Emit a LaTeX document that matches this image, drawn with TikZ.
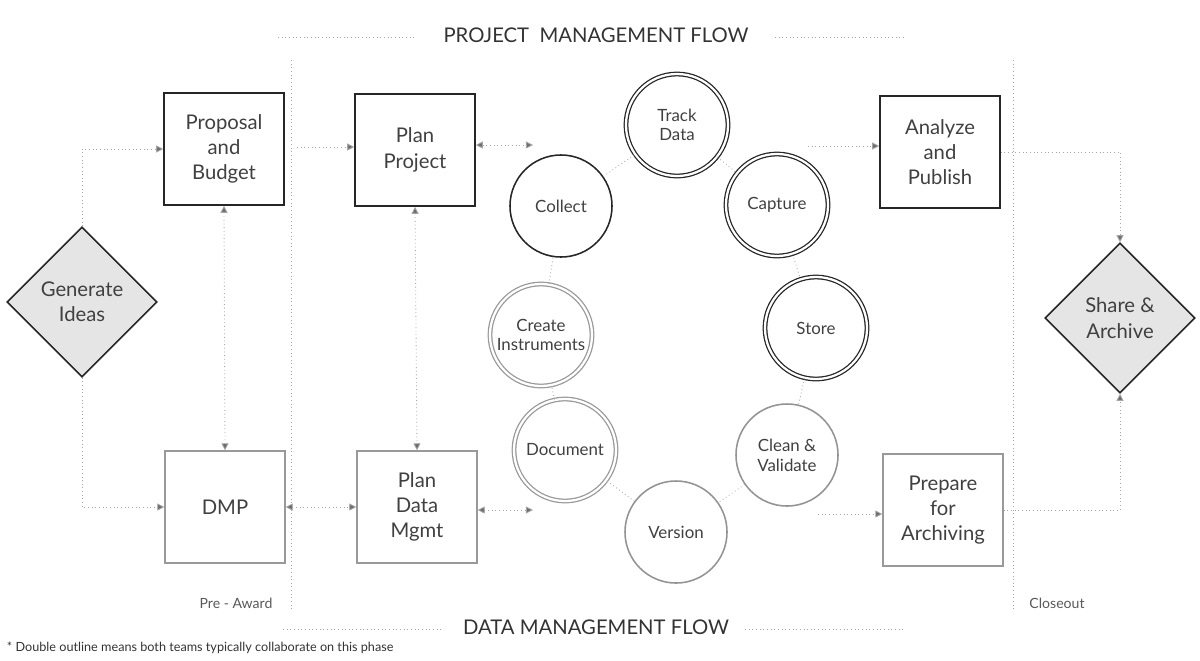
\documentclass[tikz,border=0pt]{standalone}
\usepackage{fontspec}
\setmainfont{Lato}
\usetikzlibrary{arrows.meta,shapes.geometric,patterns}
\begin{document}
\begin{tikzpicture}[x=0.025cm,y=-0.025cm,
 dot/.style={draw=gray!70,dotted,line width=0.6pt},
 con/.style={dot,-{Triangle[length=5pt,width=5pt,fill=gray!85!black]}},
 bcon/.style={dot,{Triangle[length=5pt,width=5pt,fill=gray!85!black]}-{Triangle[length=5pt,width=5pt,fill=gray!85!black]}},
 box/.style={draw=black!85,line width=1.1pt,minimum width=3cm,minimum height=2.8cm,align=center,font=\Large,text=black!75},
 gbox/.style={box,draw=gray!80,line width=0.9pt},
 dia/.style={diamond,draw=black!85,line width=1.1pt,fill=gray!20,minimum width=3.75cm,minimum height=3.75cm,align=center,font=\Large,text=black!75,inner sep=0pt},
 circ/.style={circle,draw=black!85,line width=1.1pt,minimum size=2.55cm,align=center,font=\large,text=black!75,inner sep=0pt},
 dcirc/.style={circ,double=white,double distance=1.6pt,line width=0.9pt},
 gcirc/.style={circ,draw=gray!85},
 gdcirc/.style={dcirc,draw=gray!80}]
\useasboundingbox (0,0) rectangle (1200,660);
% dividers and titles
\draw[dot] (291,60) -- (291,610);
\draw[dot] (1013,60) -- (1013,610);
\draw[dot] (278,37) -- (415,37);
\draw[dot] (775,37) -- (905,37);
\draw[dot] (283,629) -- (442,629);
\draw[dot] (745,629) -- (905,629);
\node[font=\Large,text=black!80] (t1) at (596,35) {PROJECT\ \ MANAGEMENT FLOW};
\node[font=\Large,text=black!80] (t2) at (596,627) {DATA MANAGEMENT FLOW};
\node[text=black!65] (pa) at (236,603) {Pre - Award};
\node[text=black!65] (co) at (1057,603) {Closeout};
\node[anchor=west,font=\small,text=black!80] (fn) at (2,648) {* Double outline means both teams typically collaborate on this phase};
% nodes
\node[dia] (gen) at (82,302) {Generate\\Ideas};
\node[dia] (share) at (1120,318) {Share \&\\Archive};
\node[box] (prop) at (224,149) {Proposal\\and\\Budget};
\node[gbox] (dmp) at (225,507) {DMP};
\node[box] (pp) at (415,150) {Plan\\Project};
\node[gbox] (pdm) at (417,507) {Plan\\Data\\Mgmt};
\node[box] (an) at (940,152) {Analyze\\and\\Publish};
\node[gbox] (pre) at (943,510) {Prepare\\for\\Archiving};
\node[dcirc] (track) at (677,125) {Track\\Data};
\node[dcirc] (cap) at (777,205) {Capture};
\node[dcirc] (store) at (816,328) {Store};
\node[gcirc] (clean) at (787,455) {Clean \&\\Validate};
\node[gcirc] (ver) at (676,532) {Version};
\node[gdcirc] (doc) at (565,450) {Document};
\node[gdcirc] (ci) at (541,335) {Create\\Instruments};
\node[circ] (col) at (561,206) {Collect};
% ring
\draw[dot] (track) -- (cap);
\draw[dot] (cap) -- (store);
\draw[dot] (store) -- (clean);
\draw[dot] (clean) -- (ver);
\draw[dot] (ver) -- (doc);
\draw[dot] (doc) -- (ci);
\draw[dot] (ci) -- (col);
\draw[dot] (col) -- (track);
% connectors
\coordinate (c1) at (297,147);
\coordinate (c2) at (533,145);
\coordinate (c3) at (533,510);
\coordinate (c4) at (808,146);
\coordinate (c5) at (818,514);
\draw[con] (gen.north) |- (prop.west);
\draw[con] (gen.south) |- (dmp.west);
\draw[bcon] (prop.south) -- (dmp.north);
\draw[con] (c1) -- (c1 -| pp.west);
\draw[bcon] (dmp.east) -- (pdm.west);
\draw[bcon] (pp.south) -- (pdm.north);
\draw[bcon] (pp.east |- c2) -- (c2);
\draw[bcon] (pdm.east |- c3) -- (c3);
\draw[con] (c4) -- (c4 -| an.west);
\draw[con] (c5) -- (c5 -| pre.west);
\draw[con] (an.east) -| (share.north);
\draw[con] (pre.east) -| (share.south);
\end{tikzpicture}
\end{document}
